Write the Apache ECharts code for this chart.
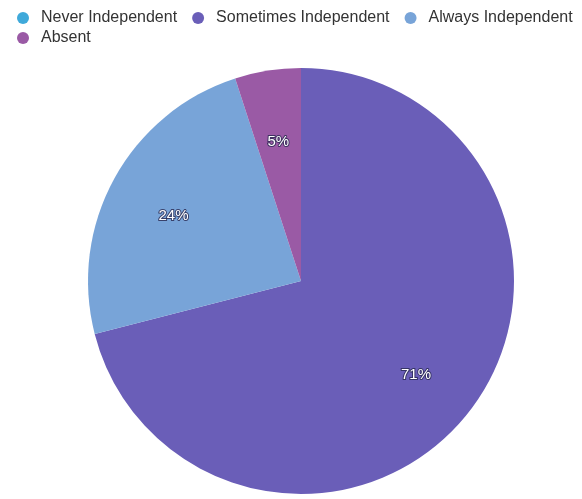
<!DOCTYPE html>
<html><head><meta charset="utf-8">
<script src="https://cdn.jsdelivr.net/npm/echarts@6/dist/echarts.min.js"></script>
<style>html,body{margin:0;padding:0;background:#fff}#c{width:582px;height:499px}</style>
</head><body><div id="c"></div>
<script>
const categories = ['Never Independent', 'Sometimes Independent', 'Always Independent', 'Absent'];
const values = [0, 71, 24, 5];
const colors = ['#3fa9da', '#6a5eb8', '#78a4d8', '#9a5aa5'];

const chart = echarts.init(document.getElementById('c'));
const data = categories.map((n, i) => ({ name: n, value: values[i] }));
const legendText = { fontFamily: 'Liberation Sans', fontSize: 16, lineHeight: 12, color: '#333' };
chart.setOption({
  animation: false,
  color: colors,
  legend: [{
    left: 17, top: 10, itemGap: 15, itemWidth: 26, itemHeight: 12, icon: 'circle',
    padding: 0, textStyle: legendText,
    data: categories.slice(0, 3)
  }, {
    left: 17, top: 30, itemGap: 15, itemWidth: 26, itemHeight: 12, icon: 'circle',
    padding: 0, textStyle: legendText,
    data: categories.slice(3)
  }],
  series: [{
    type: 'pie', center: [301, 281], radius: [0, 213], startAngle: 90, clockwise: true,
    data: data, label: { show: false }, labelLine: { show: false }, silent: true,
    itemStyle: { borderWidth: 0 }
  }, {
    type: 'pie', center: [301, 281], radius: [72, 213], startAngle: 90, clockwise: true,
    data: data, silent: true, legendHoverLink: false,
    itemStyle: { color: 'rgba(0,0,0,0)', borderWidth: 0 },
    labelLine: { show: false },
    label: {
      show: true, position: 'inside', offset: [0, 5],
      formatter: p => p.value > 0 ? Math.round(p.percent) + '%' : '',
      color: '#fff', fontFamily: 'Liberation Sans', fontSize: 15,
      textBorderColor: 'rgba(40,40,80,0.8)', textBorderWidth: 2
    }
  }]
});
</script></body></html>
